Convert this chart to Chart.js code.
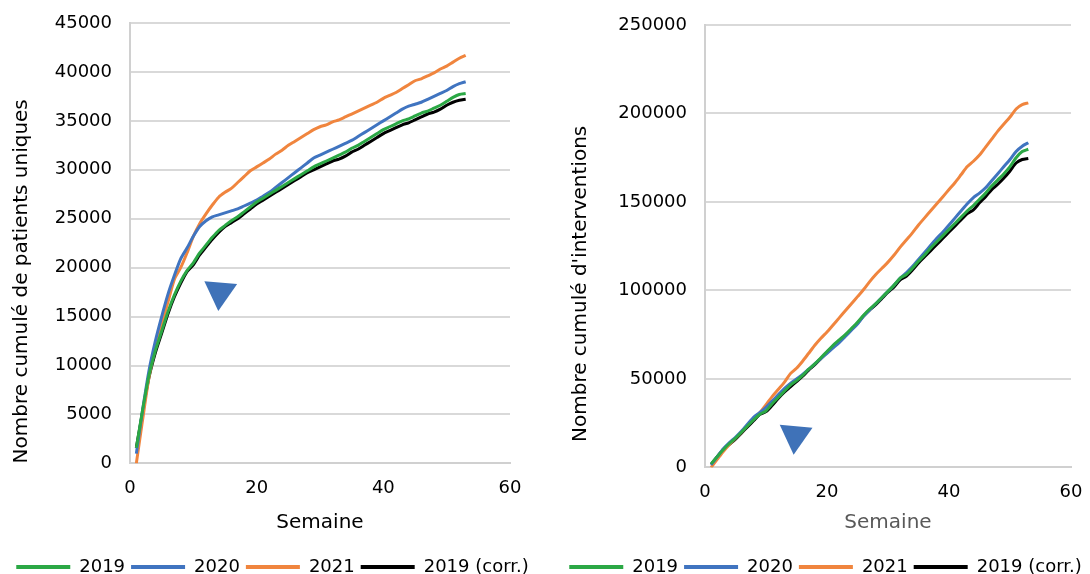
<!DOCTYPE html>
<html lang="fr">
  <head>
    <meta charset="UTF-8" />
    <title>Nombre cumulé de patients et d'interventions</title>
    <script src="https://cdn.jsdelivr.net/npm/chart.js"></script>
    <style>
      body { margin: 0; background: #fff; }
      .wrap { position: relative; width: 1090px; height: 574px; }
      .card { position: absolute; top: 0; width: 545px; height: 574px; }
    </style>
  </head>
  <body>
    <div class="wrap">
      <!-- patients -->
      <div class="card" style="left: 0"><canvas id="patientsChart" width="545" height="574"></canvas></div>
      <!-- interventions -->
      <div class="card" style="left: 545px"><canvas id="interChart" width="545" height="574"></canvas></div>
    </div>

    <script>
      // weeks 1..53
      const weeks = Array.from({ length: 53 }, (_, i) => i + 1);
      const seriesNames = ['2019', '2020', '2021', '2019 (corr.)'];
      const seriesColors = ['#2BA845', '#4074C0', '#F0853E', '#000000'];

      // cumulative unique patients (left chart)
      const patients2019 = [1600, 5500, 9000, 11500, 13500, 15500, 17200, 18600, 19700, 20500, 21500, 22300, 23100, 23800, 24300, 24800, 25200, 25700, 26200, 26700,
        27100, 27500, 27900, 28300, 28700, 29100, 29500, 29900, 30300, 30600, 30900, 31200, 31500, 31800, 32200, 32500, 32900, 33300, 33700, 34100,
        34400, 34700, 35000, 35200, 35500, 35800, 36000, 36300, 36600, 37000, 37400, 37700, 37800];
      const patients2020 = [1000, 5500, 9500, 12500, 15000, 17300, 19200, 20900, 22000, 23200, 24200, 24800, 25200, 25400, 25600, 25800, 26000, 26300, 26600, 26900,
        27300, 27700, 28200, 28700, 29200, 29700, 30200, 30700, 31200, 31500, 31800, 32100, 32400, 32700, 33000, 33400, 33800, 34200, 34600, 35000,
        35400, 35800, 36200, 36500, 36700, 36900, 37200, 37500, 37800, 38100, 38500, 38800, 39000];
      const patients2021 = [0, 4500, 8800, 11800, 14200, 16500, 18800, 20000, 21500, 23200, 24500, 25500, 26400, 27200, 27700, 28100, 28700, 29300, 29900, 30300,
        30700, 31100, 31600, 32000, 32500, 32900, 33300, 33700, 34100, 34400, 34600, 34900, 35100, 35400, 35700, 36000, 36300, 36600, 36900, 37300,
        37600, 37900, 38300, 38700, 39100, 39300, 39600, 39900, 40300, 40600, 41000, 41400, 41700];
      const patients2019corr = [1600, 5300, 8800, 11300, 13300, 15300, 17000, 18400, 19600, 20300, 21300, 22100, 22900, 23600, 24200, 24600, 25000, 25500, 26000, 26500,
        26900, 27300, 27700, 28100, 28500, 28900, 29300, 29700, 30000, 30300, 30600, 30900, 31100, 31400, 31800, 32100, 32500, 32900, 33300, 33700,
        34000, 34300, 34600, 34800, 35100, 35400, 35700, 35900, 36200, 36600, 36900, 37100, 37200];

      // cumulative interventions (right chart)
      const inter2019 = [2000, 6000, 10000, 13500, 16500, 20000, 23500, 27000, 30000, 32000, 36000, 39500, 43000, 46500, 49000, 52000, 55500, 58500, 62000, 65500,
        69000, 72000, 75000, 78500, 82000, 86000, 89500, 92500, 96000, 99500, 103000, 107000, 109000, 112500, 116500, 120000, 124000, 127500, 131000, 134500,
        138000, 141500, 145000, 148000, 151500, 155000, 159000, 162500, 166000, 170000, 175000, 178500, 179800];
      const inter2020 = [1500, 6000, 10500, 14000, 17000, 20500, 24500, 28500, 31000, 34000, 37500, 41000, 44500, 47500, 50000, 52500, 55500, 58500, 61500, 64500,
        67500, 70500, 74000, 77500, 81000, 85500, 89000, 92500, 96000, 99500, 103000, 107000, 110000, 113500, 117500, 121500, 125500, 129500, 133000, 137000,
        141000, 145000, 149000, 152500, 155000, 158000, 162000, 166000, 170000, 174000, 178500, 181500, 183500];
      const inter2021 = [0, 4500, 9000, 13000, 16500, 20000, 24000, 27500, 31000, 35500, 40000, 44000, 48000, 53000, 56000, 60000, 64500, 69000, 73000, 76500,
        80500, 84500, 88500, 92500, 96500, 100500, 105000, 109000, 112500, 116000, 120000, 124500, 128500, 132500, 137000, 141000, 145000, 149000, 153000, 157000,
        161000, 165500, 170000, 173000, 176500, 181000, 185500, 190000, 194000, 198000, 202500, 205000, 206000];
      const inter2019corr = [1500, 6000, 10000, 13000, 16000, 19500, 23000, 26500, 30000, 31500, 35000, 39000, 42500, 45500, 48500, 51500, 55000, 58000, 61500, 65000,
        68500, 71500, 74500, 78000, 81500, 85500, 89000, 92000, 95500, 99000, 102000, 106000, 108000, 111500, 115500, 119000, 122500, 126000, 129500, 133000,
        136500, 140000, 143500, 145500, 149500, 153000, 157000, 160000, 163500, 167500, 172000, 174000, 174600];

      // the blue triangle drawn on each chart (week, value)
      const patientsMarker = [14.2, 17500];
      const interMarker = [14.8, 17900];

      const FONT = 'DejaVu Sans';

      function buildDatasets(valueLists, marker) {
        const sets = valueLists.map((vals, i) => ({
          label: seriesNames[i],
          data: weeks.map((w, j) => ({ x: w, y: vals[j] })),
          borderColor: seriesColors[i],
          backgroundColor: seriesColors[i],
          borderWidth: 3,
          pointRadius: 0,
          tension: 0.25
        }));
        // decorative marker, kept out of the legend
        sets.push({
          type: 'scatter',
          label: 'marker',
          data: [{ x: marker[0], y: marker[1] }],
          pointStyle: 'triangle',
          pointRadius: 19,
          rotation: 185,
          backgroundColor: '#3F72B8',
          borderWidth: 0
        });
        return sets;
      }

      function makeChart(id, valueLists, marker, opts) {
        const ctx = document.getElementById(id).getContext('2d');
        return new Chart(ctx, {
          type: 'line',
          data: { datasets: buildDatasets(valueLists, marker) },
          options: {
            responsive: false,
            animation: false,
            layout: { padding: { top: opts.padTop, right: 0, left: opts.padLeft, bottom: -12 } },
            plugins: {
              tooltip: { enabled: false },
              legend: {
                position: 'bottom',
                labels: {
                  font: { family: FONT, size: 18 },
                  color: '#000',
                  boxWidth: 54,
                  boxHeight: 4,
                  padding: 6,
                  filter: (item) => item.text !== 'marker',
                  generateLabels: (chart) =>
                    Chart.defaults.plugins.legend.labels.generateLabels(chart).map((l) => ({ ...l, lineWidth: 0 }))
                }
              }
            },
            scales: {
              x: {
                type: 'linear',
                min: 0,
                max: 60,
                ticks: { stepSize: 20, padding: 6, color: '#000', font: { family: FONT, size: 18 } },
                grid: { display: false },
                border: { color: '#D0D0D0', width: 2 },
                title: {
                  display: true,
                  text: 'Semaine',
                  color: opts.xTitleColor,
                  font: { family: FONT, size: 20 },
                  padding: { top: opts.xTitlePadTop, bottom: 17 }
                }
              },
              y: {
                min: 0,
                max: opts.yMax,
                ticks: { stepSize: opts.yStep, padding: 18, color: '#000', font: { family: FONT, size: 18 }, callback: (v) => String(v) },
                grid: { color: '#D9D9D9', lineWidth: 2, drawTicks: false },
                border: { color: '#D0D0D0', width: 2 },
                afterFit: (scale) => {
                  scale.width = opts.yWidth;
                  // tick padding should not push the plot down
                  scale.paddingTop = 11;
                  scale.paddingBottom = 11;
                },
                title: {
                  display: true,
                  text: opts.yTitle,
                  align: 'start',
                  color: '#000',
                  font: { family: FONT, size: 20 },
                  padding: { top: opts.yTitlePad, bottom: 0 }
                }
              },
              // empty axis that only keeps room on the right of the plot
              yRight: {
                position: 'right',
                display: true,
                ticks: { display: false },
                grid: { display: false },
                border: { display: false },
                afterFit: (scale) => { scale.width = opts.rightGap; }
              }
            }
          }
        });
      }

      makeChart('patientsChart', [patients2019, patients2020, patients2021, patients2019corr], patientsMarker, {
        padTop: 23, padLeft: 0, rightGap: 35,
        yMax: 45000, yStep: 5000, yWidth: 130,
        yTitle: 'Nombre cumulé de patients uniques', yTitlePad: 10,
        xTitleColor: '#000', xTitlePadTop: 6
      });

      makeChart('interChart', [inter2019, inter2020, inter2021, inter2019corr], interMarker, {
        padTop: 25, padLeft: 16, rightGap: 15,
        yMax: 250000, yStep: 50000, yWidth: 144,
        yTitle: "\u00a0\u00a0\u00a0\u00a0Nombre cumulé d'interventions", yTitlePad: 8,
        xTitleColor: '#595959', xTitlePadTop: 2
      });
    </script>
  </body>
</html>
